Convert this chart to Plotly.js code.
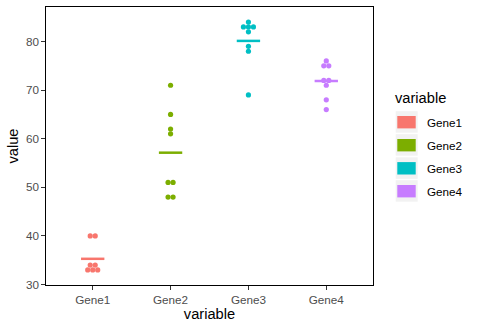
<!DOCTYPE html>
<html>
<head>
<meta charset="utf-8">
<script src="https://cdn.plot.ly/plotly-3.0.1.min.js"></script>
<style>html,body{margin:0;padding:0;background:#fff}#chart{width:477px;height:329px}</style>
</head>
<body>
<div id="chart"></div>
<script>
// ---- data ----
var genes = ["Gene1", "Gene2", "Gene3", "Gene4"];
var colors = ["#F8766D", "#7CAE00", "#00BFC4", "#C77CFF"];
var gene1 = [40, 40, 34, 34, 33, 33, 33];
var gene2 = [71, 65, 62, 61, 51, 51, 48, 48];
var gene3 = [84, 83, 83, 83, 82, 79, 78, 69];
var gene4 = [76, 75, 75, 72, 72, 71, 68, 66];
var yTicks = [30, 40, 50, 60, 70, 80];

var series = [gene1, gene2, gene3, gene4];

// layout geometry (pixels)
var W = 477, H = 329;
var M = {l: 46, r: 104, t: 7, b: 44};
var pw = W - M.l - M.r, ph = H - M.t - M.b;
var xRange = [0.4, 4.6];
var dotStep = 5.0 * (xRange[1] - xRange[0]) / pw; // stacking step in x units

var traces = [];
series.forEach(function (vals, gi) {
  // count values per bin and stack them centred around the category
  var counts = {};
  vals.forEach(function (v) { counts[v] = (counts[v] || 0) + 1; });
  var xs = [], ys = [];
  Object.keys(counts).forEach(function (k) {
    var n = counts[k];
    for (var j = 0; j < n; j++) {
      xs.push(gi + 1 + (j - (n - 1) / 2) * dotStep);
      ys.push(Number(k));
    }
  });
  var mean = vals.reduce(function (a, b) { return a + b; }, 0) / vals.length;
  traces.push({
    type: "scatter", mode: "lines", x: [gi + 1 - 0.15, gi + 1 + 0.15], y: [mean, mean],
    line: {color: colors[gi], width: 2.5}, showlegend: false, hoverinfo: "skip"
  });
  traces.push({
    type: "scatter", mode: "markers", x: xs, y: ys, name: genes[gi],
    marker: {color: colors[gi], size: 5.2, line: {width: 0}}, showlegend: false
  });
});

// manual ggplot-style legend
function px(x) { return (x - M.l) / pw; }
function py(y) { return (H - M.b - y) / ph; }
var shapes = [], annotations = [];
var keyCenters = [122.2, 145.2, 168.3, 191.2];
genes.forEach(function (g, i) {
  var cy = keyCenters[i];
  shapes.push({type: "rect", xref: "paper", yref: "paper", x0: px(395.7), x1: px(417.7),
    y0: py(cy - 11), y1: py(cy + 10.5), fillcolor: "#F2F2F2", line: {width: 0}, layer: "above"});
  shapes.push({type: "rect", xref: "paper", yref: "paper", x0: px(397.3), x1: px(415.7),
    y0: py(cy - 6.2), y1: py(cy + 6.2), fillcolor: colors[i], line: {width: 0}, layer: "above"});
  annotations.push({xref: "paper", yref: "paper", x: px(425), y: py(cy), text: g,
    showarrow: false, xanchor: "left", yanchor: "middle",
    font: {family: "Liberation Sans, Arial, sans-serif", size: 11.7, color: "#000000"}});
});
annotations.push({xref: "paper", yref: "paper", x: px(393.3), y: py(98.3), text: "variable",
  showarrow: false, xanchor: "left", yanchor: "middle",
  font: {family: "Liberation Sans, Arial, sans-serif", size: 14.67, color: "#000000"}});

var layout = {
  width: W, height: H,
  margin: M,
  paper_bgcolor: "#ffffff", plot_bgcolor: "#ffffff",
  font: {family: "Liberation Sans, Arial, sans-serif"},
  showlegend: false,
  xaxis: {
    range: xRange, tickmode: "array", tickvals: [1, 2, 3, 4], ticktext: genes,
    showgrid: false, zeroline: false, showline: true, mirror: true, linecolor: "#000", linewidth: 1,
    ticks: "outside", ticklen: 3.6, tickcolor: "#333333", tickwidth: 1,
    tickfont: {size: 11.7, color: "#4D4D4D"},
    title: {text: "variable", font: {size: 14.67, color: "#000"}, standoff: 3}
  },
  yaxis: {
    range: [29.9, 87.1], tickmode: "array", tickvals: yTicks,
    showgrid: false, zeroline: false, showline: true, mirror: true, linecolor: "#000", linewidth: 1,
    ticks: "outside", ticklen: 3.6, tickcolor: "#333333", tickwidth: 1,
    tickfont: {size: 11.7, color: "#4D4D4D"},
    title: {text: "value", font: {size: 14.67, color: "#000"}, standoff: 3}
  },
  shapes: shapes, annotations: annotations
};

Plotly.newPlot("chart", traces, layout, {displayModeBar: false, staticPlot: true});
</script>
</body>
</html>
